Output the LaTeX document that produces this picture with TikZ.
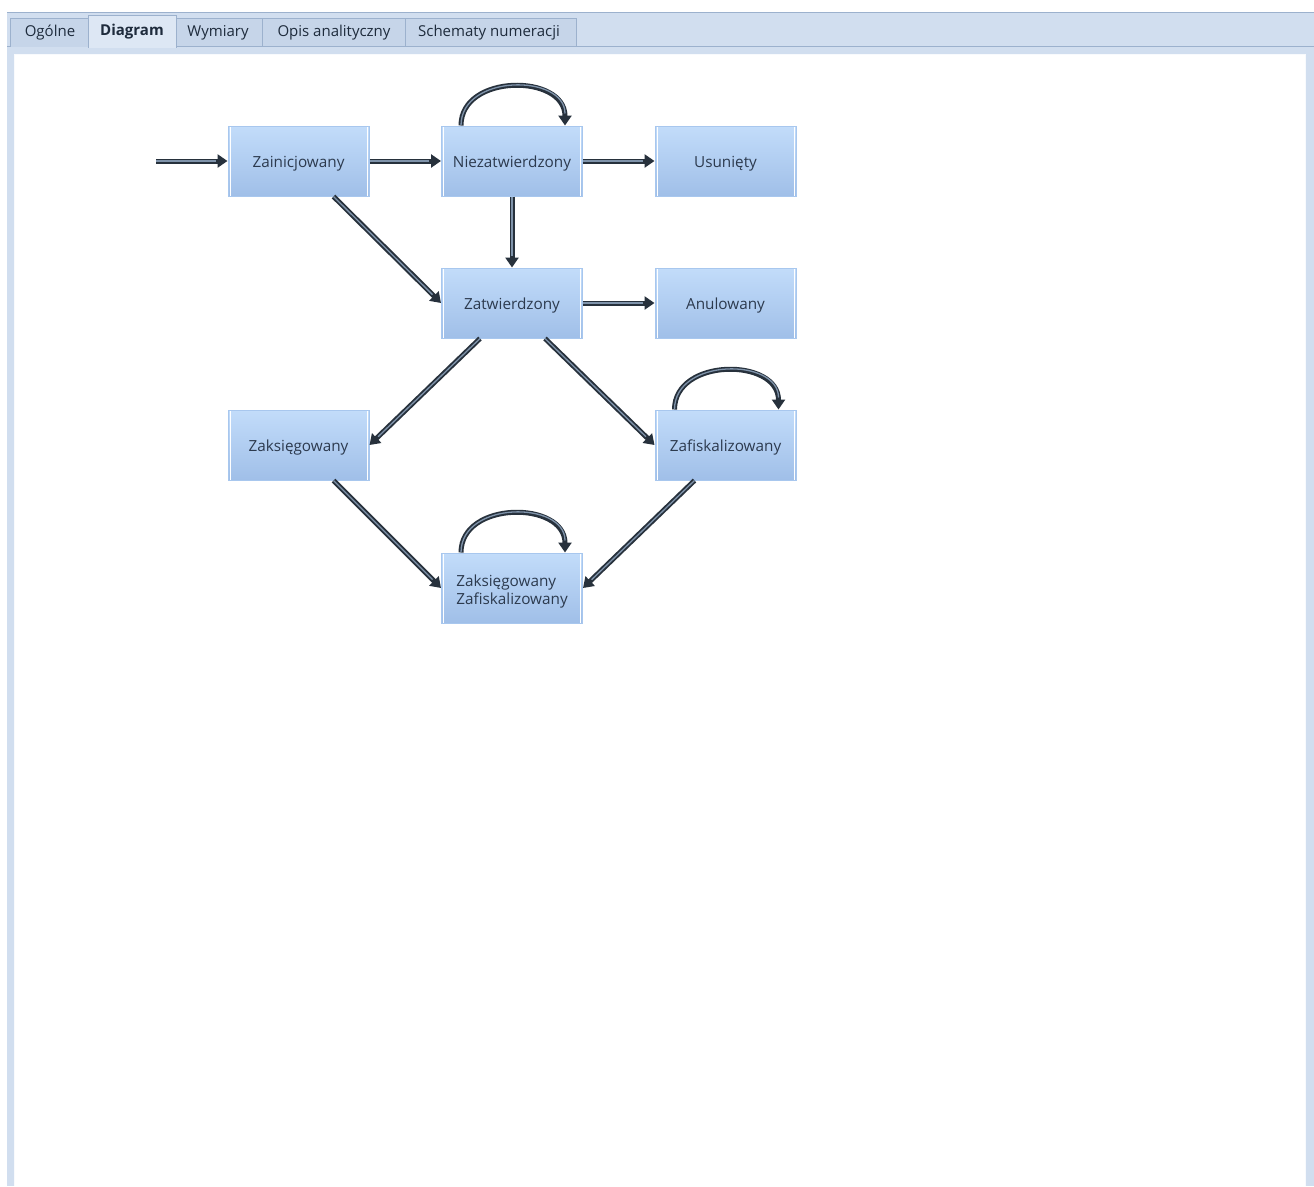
\documentclass[tikz,border=0pt]{standalone}
\usepackage{fontspec}
\setmainfont{Open Sans}
\usetikzlibrary{arrows.meta,calc}
\definecolor{barfill}{HTML}{D1DEEF}
\definecolor{barline}{HTML}{9CB1CD}
\definecolor{tabfill}{HTML}{C6D5E9}
\definecolor{tabact}{HTML}{DDE7F4}
\definecolor{tabtext}{HTML}{1E2B3C}
\definecolor{nodetop}{HTML}{C2DCFA}
\definecolor{nodebot}{HTML}{A0BFE8}
\definecolor{nodeedge}{HTML}{A8C7EE}
\definecolor{nodetext}{HTML}{2C3A4E}
\definecolor{linedark}{HTML}{27313C}
\definecolor{linelight}{HTML}{7F93AA}
\tikzset{
  state/.style={rectangle, minimum width=141pt, minimum height=70pt, inner sep=0pt,
    top color=nodetop, bottom color=nodebot, draw=nodeedge, line width=1pt,
    text=nodetext, font=\fontsize{15.3}{18.5}\selectfont,
    text height=14.5pt, text depth=1pt,
    path picture={\draw[white,line width=1pt]
      ([shift={(2pt,2pt)}]path picture bounding box.north west) rectangle
      ([shift={(-2pt,-2pt)}]path picture bounding box.south east);}},
  conn/.style={draw=linedark, line width=5pt,
    -{Triangle[length=10pt,width=13pt]},
    postaction={draw=linelight, line width=1.3pt, arrows=-, shorten >=12pt}},
  tab/.style={draw=barline, fill=tabfill, line width=0.8pt},
  tablabel/.style={text=tabtext, font=\fontsize{15}{17}\selectfont, inner sep=0pt}
}
\begin{document}
\begin{tikzpicture}[x=1pt,y=-1pt]
\useasboundingbox (0,0) rectangle (1314,1186);
\fill[white] (0,0) rectangle (1314,1186);
% frame
\fill[barfill] (7,12) rectangle (1314,1186);
\draw[barline,line width=1.2pt] (7,12.5) -- (1314,12.5);
\draw[barline,line width=1pt] (7,46.5) -- (1314,46.5);
\fill[white] (14,54) rectangle (1305,1186);
\draw[white!85!barfill,line width=0.6pt] (14,1186) -- (14,54) -- (1305,54) -- (1305,1186);
% tabs
\path[tab] (10,46.5) -- (10,18) -- (88,18) -- (88,46.5);
\path[tab] (176,46.5) -- (176,18) -- (262,18) -- (262,46.5) -- cycle;
\path[tab] (262,46.5) -- (262,18) -- (405,18) -- (405,46.5) -- cycle;
\path[tab] (405,46.5) -- (405,18) -- (576,18) -- (576,46.5) -- cycle;
\fill[tabact] (88,47.5) -- (88,15) -- (176,15) -- (176,47.5) -- cycle;
\draw[barline,line width=0.8pt] (88,47.5) -- (88,15) -- (176,15) -- (176,47.5);
\node[tablabel] (t1) at (50,33) {Ogólne};
\node[tablabel,font=\fontsize{15}{17}\selectfont\bfseries] (t2) at (132,32) {Diagram};
\node[tablabel] (t3) at (218,33) {Wymiary};
\node[tablabel] (t4) at (334,33) {Opis analityczny};
\node[tablabel] (t5) at (489,33) {Schematy numeracji};
% states
\node[state] (zai) at (298.5,161) {Zainicjowany};
\node[state] (nie) at (512,161) {Niezatwierdzony};
\node[state] (usu) at (725.5,161) {Usunięty};
\node[state] (zat) at (512,303) {Zatwierdzony};
\node[state] (anu) at (725.5,303) {Anulowany};
\node[state] (zak) at (298.5,445) {Zaksięgowany};
\node[state] (zaf) at (725.5,445) {Zafiskalizowany};
\node[state,align=left,text height=34.5pt] (zz) at (512,588) {Zaksięgowany\\Zafiskalizowany};
% connectors
\coordinate (start) at (156,161);
\draw[conn] (start) -- (zai.west);
\draw[conn] (zai.east) -- (nie.west);
\draw[conn] (nie.east) -- (usu.west);
\draw[conn] (nie.south) -- (zat.north);
\draw[conn] ([xshift=35pt]zai.south) -- (zat.west);
\draw[conn] (zat.east) -- (anu.west);
\draw[conn] ([xshift=-32pt]zat.south) -- (zak.east);
\draw[conn] ([xshift=33pt]zat.south) -- (zaf.west);
\draw[conn] ([xshift=35pt]zak.south) -- (zz.west);
\draw[conn] ([xshift=-31pt]zaf.south) -- (zz.east);
% self loops
\draw[conn] ([xshift=-51pt]nie.north) .. controls +(0,-52) and +(0,-52) .. ([xshift=53pt]nie.north);
\draw[conn] ([xshift=-51pt]zaf.north) .. controls +(0,-52) and +(0,-52) .. ([xshift=53pt]zaf.north);
\draw[conn] ([xshift=-51pt]zz.north) .. controls +(0,-52) and +(0,-52) .. ([xshift=53pt]zz.north);
\end{tikzpicture}
\end{document}
